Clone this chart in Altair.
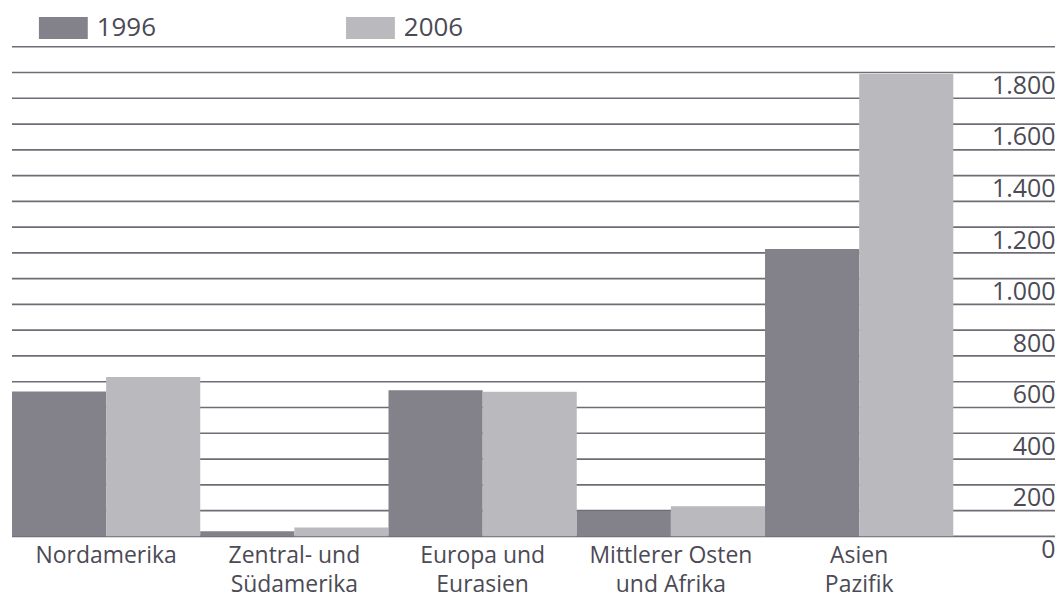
import altair as alt
import pandas as pd

categories = ["Nordamerika", "Zentral- und\nSüdamerika", "Europa und\nEurasien",
              "Mittlerer Osten\nund Afrika", "Asien\nPazifik"]
years = ["1996", "2006"]
values_1996 = [562, 20, 567, 98, 1115]
values_2006 = [618, 34, 561, 117, 1794]
grid_values = list(range(0, 2000, 100))
tick_values = list(range(0, 2000, 200))

rows = []
for c, a, b in zip(categories, values_1996, values_2006):
    rows.append({"region": c, "jahr": years[0], "wert": a})
    rows.append({"region": c, "jahr": years[1], "wert": b})
df = pd.DataFrame(rows)
grid_df = pd.DataFrame({"v": grid_values})

FONT = "Open Sans"
TEXT = "#4b4a55"
DARK = "#83818a"
LIGHT = "#bab9be"
GRID = "#6e6d76"

y_scale = alt.Scale(domain=[0, 1900], nice=False, zero=True)
y_axis = alt.Axis(orient="right", values=tick_values, format=",d",
                  labelExpr="replace(datum.label, ',', '.')",
                  domain=False, ticks=False, grid=False,
                  labelAlign="right", labelBaseline="top",
                  labelPadding=102, labelOffset=1,
                  labelFontSize=25, labelFont=FONT, labelColor=TEXT,
                  title=None)

grid = alt.Chart(grid_df).mark_rule(color=GRID, strokeWidth=1.7).encode(
    y=alt.Y("v:Q", scale=y_scale, axis=y_axis),
    x=alt.value(0), x2=alt.value(1046),
)

bars = alt.Chart(df).mark_bar().encode(
    x=alt.X("region:N", sort=categories,
            scale=alt.Scale(paddingInner=0, paddingOuter=0),
            axis=alt.Axis(orient="bottom", domain=False, ticks=False, title=None,
                          labelAngle=0, labelFontSize=23, labelFont=FONT,
                          labelColor=TEXT, labelBaseline="top", labelPadding=8,
                          labelLineHeight=29.5,
                          labelExpr="split(datum.label, '\\n')")),
    xOffset=alt.XOffset("jahr:N", sort=years,
                        scale=alt.Scale(paddingInner=0, paddingOuter=0)),
    y=alt.Y("wert:Q", scale=y_scale, axis=y_axis),
    color=alt.Color("jahr:N", sort=years,
                    scale=alt.Scale(domain=years, range=[DARK, LIGHT]),
                    legend=alt.Legend(orient="none", legendX=27, legendY=-43.5,
                                      direction="horizontal", title=None,
                                      symbolType="M-1,-0.45H1V0.45H-1Z",
                                      symbolSize=2401, symbolStrokeWidth=0,
                                      symbolOpacity=1,
                                      labelFontSize=26, labelFont=FONT,
                                      labelColor=TEXT, labelOffset=9,
                                      columnPadding=190)),
)

chart = alt.layer(grid, bars).properties(
    width=944, height=491,
    padding={"left": 4, "top": 38, "right": 102, "bottom": 64},
    autosize=alt.AutoSizeParams(type="none"),
    background="white",
).configure_view(stroke=None)

chart.save("out.html", embed_options={"renderer": "svg", "actions": False})
